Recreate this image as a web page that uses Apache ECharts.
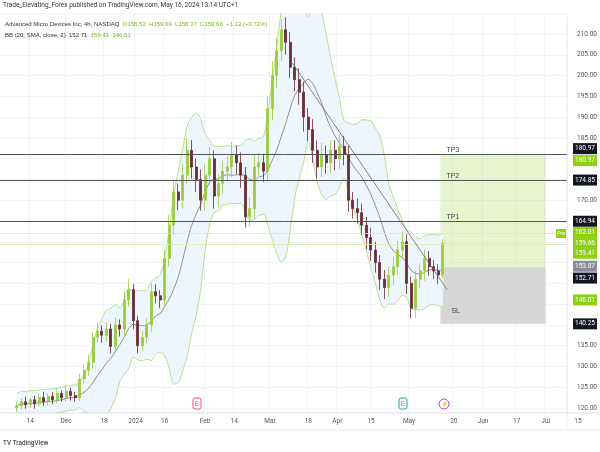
<!DOCTYPE html>
<html><head><meta charset="utf-8">
<script src="https://cdn.jsdelivr.net/npm/echarts@6/dist/echarts.min.js"></script>
<style>html,body{margin:0;padding:0;background:#fff}#c{width:600px;height:452px}</style>
</head><body><div id="c"></div>
<script>
// candle closes, one every 2 calendar days starting Nov 8 2023 (day -6 from Nov 14)
const closes = [120.5,121.5,120.8,122,121,122.5,121.5,122.8,122,123.5,122.5,124,123,122.5,127,129,131,137,138.5,137.5,
  139,134.8,140,139,146,148.5,141,135,137,140,148,147,146,156,164,172,170,176,182,178,
  175,170,176,180,171,174,177,178,181,179,176,166,168,178,179,177,192,200,206,211,
  208,202,199,196,190,187,182,178,181,179,182,180,183,181,170,168,167,164,161,158,
  155,151,149,152,154,158,160,150,144,151,153,156,154,153,152,159.66];
const wickUp = [1,0.8,1.2,0.6,1,0.9,1.4,0.7,1,1.2,0.8,1.5,1,0.9,1.2,1.5,1.8,1.2,2,1.4,
  1.5,1.2,1.8,1.3,2,2.5,1.4,1.2,1.5,1.6,2,1.8,1.4,2.2,2.5,2.5,2,2.8,3,2.5,
  2,2.4,2.6,2.8,2,2.2,2.5,2.6,3,2.2,2.5,2,2.5,3,2.4,2.2,3,3.5,3,2.5,
  3,2.5,2.4,2.8,2.5,2.2,2.5,2.4,2.8,2.2,2.5,2.4,2.8,2.5,2.2,2,2.4,2.2,2,2.4,
  2,1.8,2.2,2,2.4,2.2,2.6,1.8,1.6,2,1.8,2.2,1.8,1.6,1.6,0.9];
const wickDn = [1,0.9,1,0.8,1.2,0.7,1,0.9,1.1,0.8,1,0.9,1.2,1,0.8,1,1.2,1.5,1.2,1.8,
  1.5,1.6,1.4,1.8,1.5,1.6,2,1.8,1.4,1.5,1.6,1.8,2,1.8,2,2.2,2.4,2,2.2,2.8,
  3,2.5,2.4,2.2,3,2.6,2.4,2.2,2.4,2.8,3,2.6,2.2,2.4,2.2,2.6,2.5,2.8,3,2.5,
  3,2.6,2.8,3,3.5,2.8,3,2.8,2.4,2.6,2.4,2.8,2.5,2.6,2.8,2.4,2.6,2.4,2.8,2.6,
  2.4,2.6,2.8,2.2,2.4,2,2.2,2.6,2.4,2.2,2,2.4,2.2,2,2.2,0.8];
// axis labels: [day index from Nov 14 2023, text]
const xLabels = [[0,'14'],[16,'Dec'],[33,'18'],[47,'2024'],[60,'16'],[78,'Feb'],[91,'14'],[107,'Mar'],[124,'18'],[137,'Apr'],[152,'15'],[169,'May'],[189,'20'],[202,'Jun'],[217,'17'],[230,'Jul']];
const yShown = [120,125,130,135,170,185,190,195,200,205,210];
const levels = {tp3:180.97, tp2:174.85, tp1:164.94, entry:153.87, sl:140.25};
// [value, text, colour key, vertical nudge]
const badges = [[180.97,'180.97','dark',-6],[180.97,'180.97','lime',6],[174.85,'174.85','dark',0],[164.94,'164.94','dark',0],
  [162.01,'162.01','lime',-1],[159.66,'159.66','lime',0],[159.41,'159.41','lime',9],[153.87,'153.87','grey',-1],
  [152.71,'152.71','dark',6],[146.01,'146.01','lime',0],[140.25,'140.25','dark',0]];
const trend = [[117,203],[186,148.5]];
const boxStart = 183, boxEnd = 230;

const COL = {dark:'#131722', lime:'#8fd014', grey:'#8a8d96'};
const D0 = -13, D1 = 239;
const cats = []; for (let d = D0; d <= D1; d++) cats.push(String(d));
const N = cats.length;
const candle = new Array(N).fill('-');
const up = [], lo = [], mid = [];
const P = 10;
closes.forEach((c, i) => {
  const k = 7 + 2 * i;
  const o = i === 0 ? 120 : closes[i - 1];
  candle[k] = [o, c, Math.min(o, c) - wickDn[i], Math.max(o, c) + wickUp[i]];
  const s = closes.slice(Math.max(0, i - P + 1), i + 1);
  const m = s.reduce((a, b) => a + b, 0) / s.length;
  const sd = Math.sqrt(s.reduce((a, b) => a + (b - m) * (b - m), 0) / s.length);
  const w = Math.max(2 * sd, 3);
  mid.push([k, m]); up.push([k, m + w]); lo.push([k, m - w]);
});
const labelMap = {}; xLabels.forEach(([d, t]) => labelMap[String(d)] = t);
const badgeLabel = (bg) => ({show:true, position:'end', distance:6, color:'#fff', backgroundColor:bg, padding:[2,2], fontSize:6.5, fontFamily:'Roboto'});

const chart = echarts.init(document.getElementById('c'));
chart.setOption({
  animation:false,
  grid:{left:0, right:33, top:13.2, bottom:23.2},
  xAxis:[{type:'category', data:cats, boundaryGap:true,
    axisLine:{show:false}, axisTick:{show:false},
    axisLabel:{show:false},
    splitLine:{show:true, interval:(i,v)=>v in labelMap, lineStyle:{color:'#f0f3fa', width:1}}},
    {type:'value', min:-0.5, max:N-0.5, show:false}],
  yAxis:{type:'value', position:'right', min:115, max:215, interval:5, scale:true,
    axisLine:{show:false}, axisTick:{show:false},
    axisLabel:{formatter:v=>yShown.includes(v)?v.toFixed(2):'', fontSize:6.5, color:'#555', margin:10, fontFamily:'Roboto'},
    splitLine:{lineStyle:{color:'#f0f3fa'}}},
  series:[
    {type:'custom', xAxisIndex:1, data:[0], z:1, silent:true,
      renderItem:(params, api)=>{
        const pts = up.map(p=>api.coord(p)).concat(lo.slice().reverse().map(p=>api.coord(p)));
        return {type:'polygon', shape:{points:pts, smooth:0.3}, style:{fill:'#eef6fd'}};
      }},
    {type:'line', xAxisIndex:1, data:up, symbol:'none', smooth:0.3, lineStyle:{color:'#a6d96a', width:0.8}, z:2},
    {type:'line', xAxisIndex:1, data:lo, symbol:'none', smooth:0.3, lineStyle:{color:'#a6d96a', width:0.8}, z:2},
    {type:'line', xAxisIndex:1, data:mid, symbol:'none', smooth:0.3, lineStyle:{color:'#666', width:0.7}, z:2},
    {type:'candlestick', data:candle, barWidth:2.5, z:4,
      itemStyle:{color:'#9ccc3c', color0:'#6b2a36', borderColor:'#9ccc3c', borderColor0:'#6b2a36', borderWidth:0.8},
      markArea:{silent:true, data:[
        [{coord:[String(boxStart),levels.entry], itemStyle:{color:'rgba(170,215,80,0.28)'}},{coord:[String(boxEnd),levels.tp3]}],
        [{coord:[String(boxStart),levels.sl], itemStyle:{color:'#d6d6d6'}, label:{show:true, position:'insideBottomLeft', formatter:'SL', color:'#444', fontSize:7, offset:[6,-4]}},{coord:[String(boxEnd),levels.entry]}]
      ]},
      markLine:{silent:true, symbol:'none', data:[
        {yAxis:levels.tp3, lineStyle:{color:'#555', width:1, type:'solid'}, label:{show:false}},
        {yAxis:levels.tp2, lineStyle:{color:'#555', width:1, type:'solid'}, label:{show:false}},
        {yAxis:levels.tp1, lineStyle:{color:'#555', width:1, type:'solid'}, label:{show:false}},
        {yAxis:162.01, lineStyle:{color:'#d9eeb0', width:0.8, type:'solid'}, label:{show:false}},
        {yAxis:159.41, lineStyle:{color:'#d9eeb0', width:0.8, type:'solid'}, label:{show:false}},
        [{coord:[String(trend[0][0]),trend[0][1]], lineStyle:{color:'#666', width:0.8, type:'solid'}, label:{show:false}},{coord:[String(trend[1][0]),trend[1][1]]}],
        [{coord:[String(boxStart),levels.tp3], lineStyle:{width:0}, label:{show:true, position:'insideStartTop', formatter:'TP3', color:'#444', fontSize:7, distance:[6,1]}},{coord:[String(boxEnd),levels.tp3]}],
        [{coord:[String(boxStart),levels.tp2], lineStyle:{width:0}, label:{show:true, position:'insideStartTop', formatter:'TP2', color:'#444', fontSize:7, distance:[6,1]}},{coord:[String(boxEnd),levels.tp2]}],
        [{coord:[String(boxStart),levels.tp1], lineStyle:{width:0}, label:{show:true, position:'insideStartTop', formatter:'TP1', color:'#444', fontSize:7, distance:[6,1]}},{coord:[String(boxEnd),levels.tp1]}]
      ]}},
    {type:'line', data:[], markLine:{silent:true, symbol:'none', lineStyle:{width:0},
      data:badges.map(([v,t,c,off])=>({yAxis:v, label:Object.assign(badgeLabel(COL[c]),{formatter:t, offset:[0, off]})}))}}
  ],
  graphic:[
    {type:'rect', shape:{x:0,y:413,width:600,height:39}, style:{fill:'#fff'}, z:50},
    {type:'line', shape:{x1:0,y1:413,x2:600,y2:413}, style:{stroke:'#d1d4dc', lineWidth:0.8}, z:51},
    {type:'line', shape:{x1:0,y1:430,x2:600,y2:430}, style:{stroke:'#e0e3eb', lineWidth:0.8}, z:51},
    {type:'line', shape:{x1:567,y1:22,x2:567,y2:430}, style:{stroke:'#e0e3eb', lineWidth:0.6}, z:51},
    {type:'rect', shape:{x:0,y:0,width:600,height:13}, style:{fill:'#fff'}, z:50},
    ...xLabels.map(([d,t])=>({type:'text', x:(d+13+0.5)*567/N, y:421, style:{text:t, fill:'#555', fontSize:6.5, fontFamily:'Roboto', align:'center', verticalAlign:'middle'}, z:52})),
    {type:'text', x:578, y:421, style:{text:'15', fill:'#555', fontSize:6.5, fontFamily:'Roboto', align:'center', verticalAlign:'middle'}, z:52},
    {type:'rect', shape:{x:556,y:229,width:10,height:9}, style:{fill:'#8fd014'}, z:52},
    {type:'text', x:561, y:233.5, style:{text:'Pre', fill:'#fff', fontSize:5.5, fontFamily:'Roboto', align:'center', verticalAlign:'middle'}, z:53},
    {type:'text', x:3, y:2, style:{text:'Trade_Elevating_Forex published on TradingView.com, May 16, 2024 13:14 UTC+1', fill:'#333', fontSize:6.5, fontFamily:'Roboto'}, z:52},
    {type:'text', x:5, y:21, style:{text:'{a|Advanced Micro Devices Inc, 4h, NASDAQ  }{g|O158.52  H159.69  L158.37  C159.66  +1.12 (+0.71%)}', fontSize:6, fontFamily:'Roboto',
      rich:{a:{fill:'#333',fontSize:6},g:{fill:'#7cb518',fontSize:6}}}, z:52},
    {type:'text', x:5, y:32, style:{text:'{a|BB (20, SMA, close, 2)  152.71  }{g|159.41  146.01}', fontSize:6, fontFamily:'Roboto',
      rich:{a:{fill:'#333',fontSize:6},g:{fill:'#7cb518',fontSize:6}}}, z:52},
    {type:'rect', shape:{x:193,y:398,width:8,height:11,r:2}, style:{fill:'#fff', stroke:'#f0506e', lineWidth:1}, z:52},
    {type:'text', x:197, y:404, style:{text:'E', fill:'#f0506e', fontSize:6.5, align:'center', verticalAlign:'middle'}, z:53},
    {type:'rect', shape:{x:399,y:398,width:8,height:11,r:2}, style:{fill:'#fff', stroke:'#26a69a', lineWidth:1}, z:52},
    {type:'text', x:403, y:404, style:{text:'E', fill:'#26a69a', fontSize:6.5, align:'center', verticalAlign:'middle'}, z:53},
    {type:'circle', shape:{cx:444,cy:404,r:5}, style:{fill:'#fff', stroke:'#ab47bc', lineWidth:1}, z:52},
    {type:'text', x:444, y:404, style:{text:'⚡', fill:'#ab47bc', fontSize:6, align:'center', verticalAlign:'middle'}, z:53},
    {type:'text', x:3, y:440, style:{text:'TV TradingView', fill:'#131722', fontSize:6.5, fontFamily:'Roboto'}, z:52}
  ]
});
</script></body></html>
